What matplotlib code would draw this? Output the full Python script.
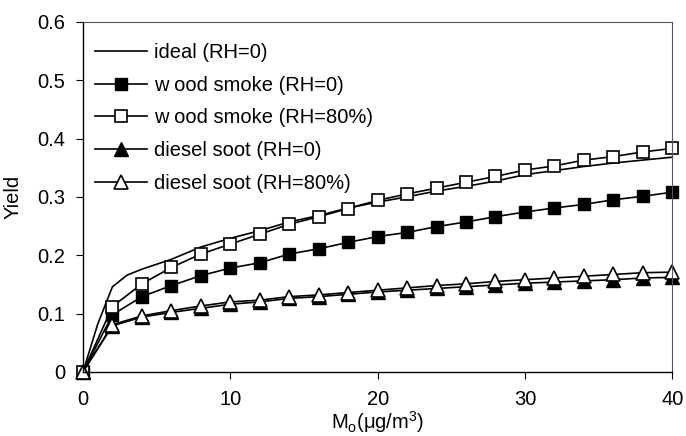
import matplotlib
matplotlib.use("Agg")
import matplotlib.pyplot as plt

plt.rcParams['font.family'] = ['Liberation Sans', 'DejaVu Sans']
plt.rcParams['mathtext.fontset'] = 'custom'
plt.rcParams['mathtext.rm'] = 'Liberation Sans'
plt.rcParams['mathtext.it'] = 'Liberation Sans:italic'

# Organic aerosol mass loading (ug/m3)
mo = [0, 2, 4, 6, 8, 10, 12, 14, 16, 18, 20, 22, 24, 26, 28, 30, 32, 34, 36, 38, 40]

# Ideal partitioning curve (finer sampling near the origin)
mo_ideal = [0, 1, 2, 3, 4, 6, 8, 10, 12, 14, 16, 18, 20, 22, 24, 26, 28, 30, 32, 34, 36, 38, 40]
yield_ideal = [0, 0.082, 0.146, 0.166, 0.176, 0.193, 0.214, 0.229, 0.242, 0.257, 0.268,
               0.281, 0.291, 0.300, 0.310, 0.318, 0.327, 0.338, 0.345, 0.352, 0.358, 0.363, 0.368]

yield_wood_dry = [0, 0.098, 0.129, 0.148, 0.165, 0.178, 0.187, 0.202, 0.211, 0.222, 0.232,
                  0.239, 0.249, 0.257, 0.266, 0.274, 0.281, 0.287, 0.295, 0.301, 0.308]
yield_wood_wet = [0, 0.112, 0.151, 0.179, 0.202, 0.219, 0.236, 0.253, 0.266, 0.280, 0.294,
                  0.305, 0.315, 0.325, 0.335, 0.346, 0.353, 0.363, 0.369, 0.377, 0.383]
yield_diesel_dry = [0, 0.079, 0.094, 0.102, 0.109, 0.116, 0.120, 0.126, 0.129, 0.133, 0.137,
                    0.140, 0.143, 0.146, 0.149, 0.152, 0.154, 0.156, 0.158, 0.161, 0.162]
yield_diesel_wet = [0, 0.081, 0.096, 0.105, 0.113, 0.120, 0.123, 0.129, 0.132, 0.136, 0.140,
                    0.144, 0.148, 0.151, 0.155, 0.158, 0.161, 0.164, 0.167, 0.170, 0.171]

labels = ['ideal (RH=0)', 'w ood smoke (RH=0)', 'w ood smoke (RH=80%)',
          'diesel soot (RH=0)', 'diesel soot (RH=80%)']

fs = 14.5

fig = plt.figure(figsize=(6.86, 4.36), dpi=100)
ax = fig.add_axes([0.121, 0.147, 0.859, 0.803])

lw = 1.2
ms = 8.5
common = dict(color='black', lw=lw, clip_on=False)
ax.plot(mo_ideal, yield_ideal, label=labels[0], **common)
ax.plot(mo, yield_wood_dry, marker='s', ms=ms, mfc='black', mec='black',
        label=labels[1], **common)
ax.plot(mo, yield_wood_wet, marker='s', ms=ms, mfc='white', mec='black', mew=1.2,
        label=labels[2], **common)
ax.plot(mo, yield_diesel_dry, marker='^', ms=ms + 1, mfc='black', mec='black',
        label=labels[3], **common)
ax.plot(mo, yield_diesel_wet, marker='^', ms=ms + 1, mfc='white', mec='black', mew=1.2,
        label=labels[4], **common)

ax.set_xlim(0, 40)
ax.set_ylim(0, 0.6)
ax.set_xticks([0, 10, 20, 30, 40])
ax.set_yticks([0, 0.1, 0.2, 0.3, 0.4, 0.5, 0.6])
ax.set_yticklabels(['0', '0.1', '0.2', '0.3', '0.4', '0.5', '0.6'])
ax.tick_params(axis='both', direction='out', length=5, width=0.8, labelsize=fs,
               colors='black')
ax.tick_params(axis='x', pad=8)
ax.tick_params(axis='y', pad=8)

for side in ['left', 'bottom']:
    ax.spines[side].set_color('black')
    ax.spines[side].set_linewidth(1.0)
for side in ['top', 'right']:
    ax.spines[side].set_color('#555555')
    ax.spines[side].set_linewidth(0.8)

ax.set_ylabel('Yield', fontsize=fs, labelpad=10)
ax.set_xlabel(r'M$_\mathrm{o}$($\mathrm{\mu}$g/m$^\mathrm{3}$)', fontsize=fs, labelpad=0)

leg = ax.legend(loc='upper left', frameon=False, fontsize=fs, handlelength=2.6,
                handletextpad=0.35, labelspacing=0.68, borderaxespad=0.0,
                bbox_to_anchor=(4 / 589, 1 - 13 / 350))

fig.savefig('out.png', dpi=100)
